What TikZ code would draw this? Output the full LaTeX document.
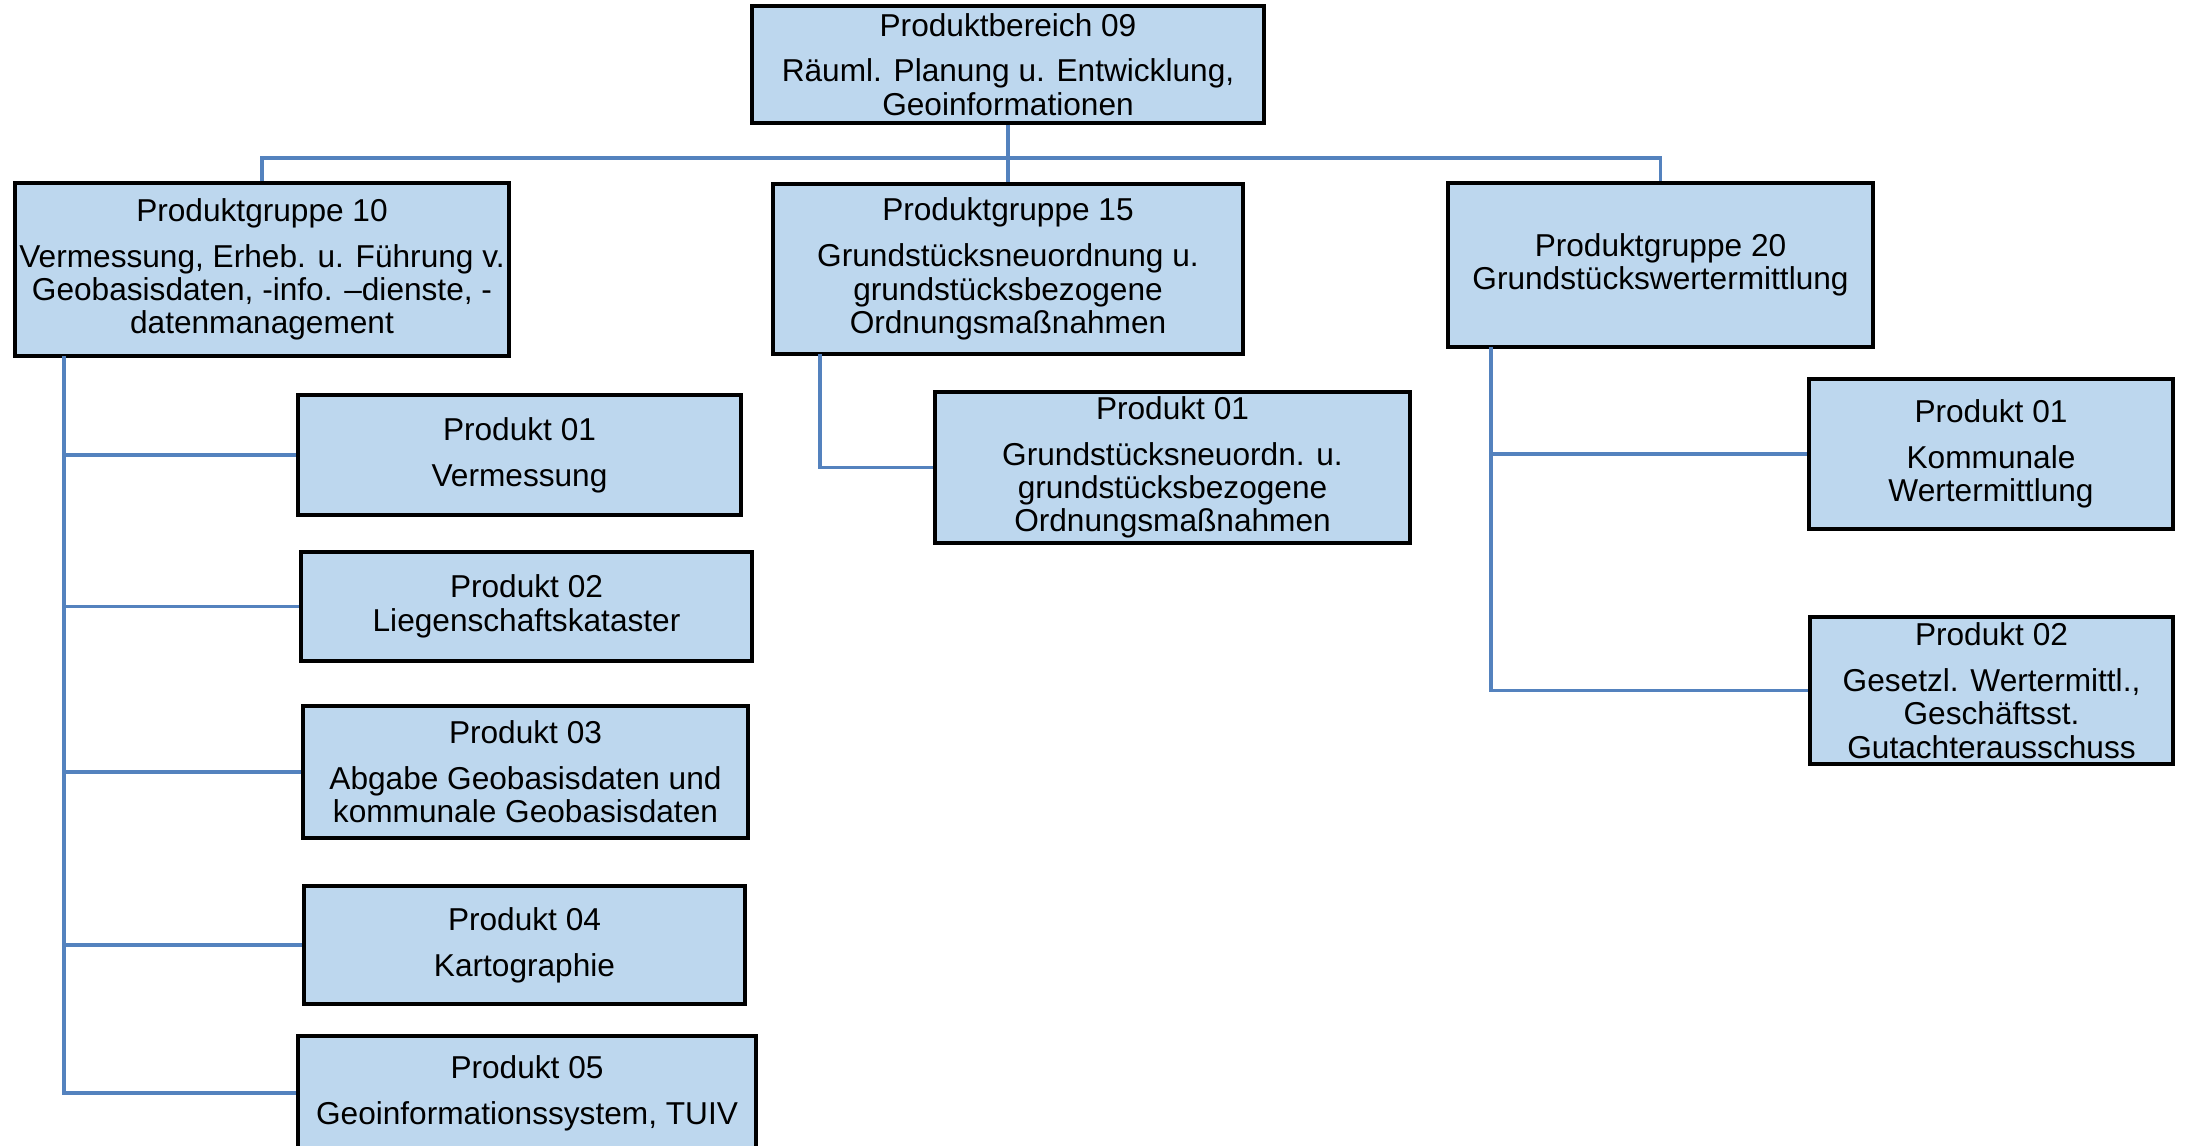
\documentclass[tikz,border=0pt]{standalone}
\usepackage{fontspec}
\setmainfont{Liberation Sans}
\usepackage{tikz}

\definecolor{boxfill}{RGB}{189,215,238}
\definecolor{linkblue}{RGB}{84,130,190}

\begin{document}
\begin{tikzpicture}[box/.style = {draw=black, fill=boxfill, line width=0.9pt, align=center, inner sep=1pt,
                      font=\fontsize{9}{9.5}\selectfont},
                    link/.style = {draw=linkblue, line width=0.9pt}]
    \useasboundingbox (0,0) rectangle (21.87,-11.45);
    \clip (0,0) rectangle (21.87,-11.45);
        % Produktbereich
        \node[box, minimum width=5.12cm, minimum height=1.17cm] (pb) at (10.08,-0.645)
            {Produktbereich 09\\[3.5pt] Räuml. Planung u. Entwicklung,\\ Geoinformationen};
        % Produktgruppen
        \node[box, minimum width=4.94cm, minimum height=1.73cm] (g10) at (2.62,-2.695)
            {Produktgruppe 10\\[3.5pt] Vermessung, Erheb. u. Führung v.\\ Geobasisdaten, -info. –dienste, -\\ datenmanagement};
        \node[box, minimum width=4.70cm, minimum height=1.70cm] (g15) at (10.08,-2.69)
            {Produktgruppe 15\\[3.5pt] Grundstücksneuordnung u.\\ grundstücksbezogene\\ Ordnungsmaßnahmen};
        \node[box, minimum width=4.25cm, minimum height=1.64cm] (g20) at (16.605,-2.65)
            {Produktgruppe 20\\ Grundstückswertermittlung};
        % Produkte der Gruppe 10
        \node[box, minimum width=4.43cm, minimum height=1.20cm] (a1) at (5.195,-4.55)
            {Produkt 01\\[3.5pt] Vermessung};
        \node[box, minimum width=4.51cm, minimum height=1.09cm] (a2) at (5.265,-6.065)
            {Produkt 02\\ Liegenschaftskataster};
        \node[box, minimum width=4.45cm, minimum height=1.32cm] (a3) at (5.255,-7.72)
            {Produkt 03\\[3.5pt] Abgabe Geobasisdaten und\\ kommunale Geobasisdaten};
        \node[box, minimum width=4.41cm, minimum height=1.18cm] (a4) at (5.245,-9.45)
            {Produkt 04\\[3.5pt] Kartographie};
        \node[box, minimum width=4.58cm, minimum height=1.14cm] (a5) at (5.27,-10.93)
            {Produkt 05\\[3.5pt] Geoinformationssystem, TUIV};
        % Produkt der Gruppe 15
        \node[box, minimum width=4.75cm, minimum height=1.51cm] (b1) at (11.725,-4.675)
            {Produkt 01\\[3.5pt] Grundstücksneuordn. u.\\ grundstücksbezogene\\ Ordnungsmaßnahmen};
        % Produkte der Gruppe 20
        \node[box, minimum width=3.64cm, minimum height=1.50cm] (c1) at (19.91,-4.54)
            {Produkt 01\\[3.5pt] Kommunale\\ Wertermittlung};
        \node[box, minimum width=3.63cm, minimum height=1.47cm] (c2) at (19.915,-6.905)
            {Produkt 02\\[3.5pt] Gesetzl. Wertermittl.,\\ Geschäftsst.\\ Gutachterausschuss};
        % Verbindungen
        \coordinate (bus) at (10.08,-1.58);
        \coordinate (s10) at (0.64,-3.56);
        \coordinate (s15) at (8.20,-3.54);
        \coordinate (s20) at (14.91,-3.47);
        \draw[link] (pb.south) -- (g15.north);
        \draw[link] (g10.north) |- (bus) -| (g20.north);
        \foreach \p in {a1,a2,a3,a4,a5}
            \draw[link] (s10) |- (\p.west);
        \draw[link] (s15) |- (b1.west);
        \draw[link] (s20) |- (c1.west);
        \draw[link] (s20) |- (c2.west);
    \end{tikzpicture}
\end{document}
